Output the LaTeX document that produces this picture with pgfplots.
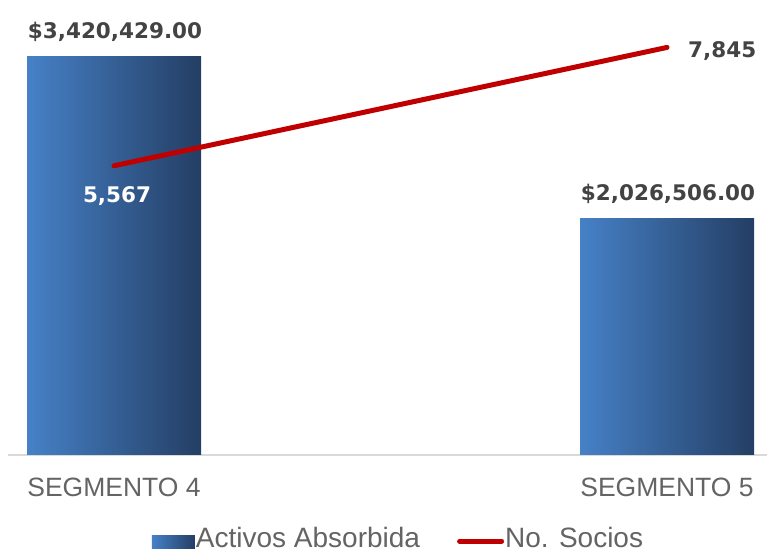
\documentclass[border=0pt]{standalone}
\usepackage{fontspec}
\setmainfont{Liberation Sans}
\newfontfamily\lblfont{DejaVu Sans}
\usepackage{pgfplots}
\pgfplotsset{compat=1.18}
\definecolor{barL}{RGB}{70,129,199}
\definecolor{barR}{RGB}{36,62,100}
\definecolor{lineR}{RGB}{192,0,0}
\definecolor{lbltxt}{RGB}{67,67,67}
\definecolor{ticktxt}{RGB}{100,100,100}
\definecolor{axl}{RGB}{217,217,217}
\begin{document}
\begin{tikzpicture}
\path[use as bounding box] (0,0) rectangle (767pt,553pt);
\begin{axis}[
  at={(8pt,98pt)}, anchor=south west,
  scale only axis, width=759pt, height=419pt,
  xmin=-0.1917, xmax=1.1808, ymin=0, ymax=3592000,
  axis x line*=bottom, axis y line=none,
  x axis line style={draw=axl, line width=1.5pt, -},
  xtick={0,1}, xticklabels={SEGMENTO 4,SEGMENTO 5},
  major tick length=0pt, ytick=\empty,
  xticklabel style={font=\fontsize{26.5}{30}\selectfont, text=ticktxt, anchor=base, inner sep=0pt, yshift=-42pt},
  clip=false,
]
\addplot[ybar, bar width=174pt, bar shift=0pt, draw=none, left color=barL, right color=barR]
  coordinates {(0,3420429)};
\addplot[ybar, bar width=174pt, bar shift=0pt, draw=none, left color=barL, right color=barR]
  coordinates {(1,2026506)};
\addplot[draw=none, forget plot, nodes near coords, point meta=explicit symbolic,
  every node near coord/.style={font=\lblfont\bfseries\fontsize{21.5}{26}\selectfont, text=lbltxt, anchor=base, inner sep=0pt, yshift=18pt, xshift=1pt}]
  coordinates {(0,3420429) [\$3,420,429.00] (1,2026506) [\$2,026,506.00]};
\end{axis}
\begin{axis}[
  at={(8pt,98pt)}, anchor=south west,
  scale only axis, width=759pt, height=419pt,
  xmin=-0.1917, xmax=1.1808, ymin=0, ymax=8065,
  hide x axis, hide y axis, clip=false,
  legend style={at={(0.1897,-0.2267)}, anchor=south west, draw=none, fill=none,
    inner sep=0pt, outer sep=0pt, font=\fontsize{28}{32}\selectfont, text=ticktxt,
    /tikz/every even column/.append style={column sep=36pt}, nodes={inner sep=1pt}},
  legend columns=2, legend cell align=left,
]
\addlegendimage{legend image code/.code={\shade[draw=none, left color=barL, right color=barR] (0pt,-10pt) rectangle (43pt,3pt);}}
\addlegendentry{Activos Absorbida}
\addplot[lineR, line width=5pt, line cap=round,
  legend image code/.code={\draw[lineR, line width=5pt, line cap=round] (2.5pt,-3pt) -- (44.5pt,-3pt);}]
  coordinates {(0,5567) (1,7845)};
\addlegendentry{No. Socios}
\addplot[draw=none, forget plot, nodes near coords, point meta=explicit symbolic,
  every node near coord/.style={font=\lblfont\bfseries\fontsize{21.5}{26}\selectfont, text=white, anchor=base, inner sep=0pt, yshift=-37pt, xshift=3pt}]
  coordinates {(0,5567) [5,567]};
\addplot[draw=none, forget plot, nodes near coords, point meta=explicit symbolic,
  every node near coord/.style={font=\lblfont\bfseries\fontsize{21.5}{26}\selectfont, text=lbltxt, anchor=base west, inner sep=0pt, yshift=-10pt, xshift=21pt}]
  coordinates {(1,7845) [7,845]};
\end{axis}
\end{tikzpicture}
\end{document}
